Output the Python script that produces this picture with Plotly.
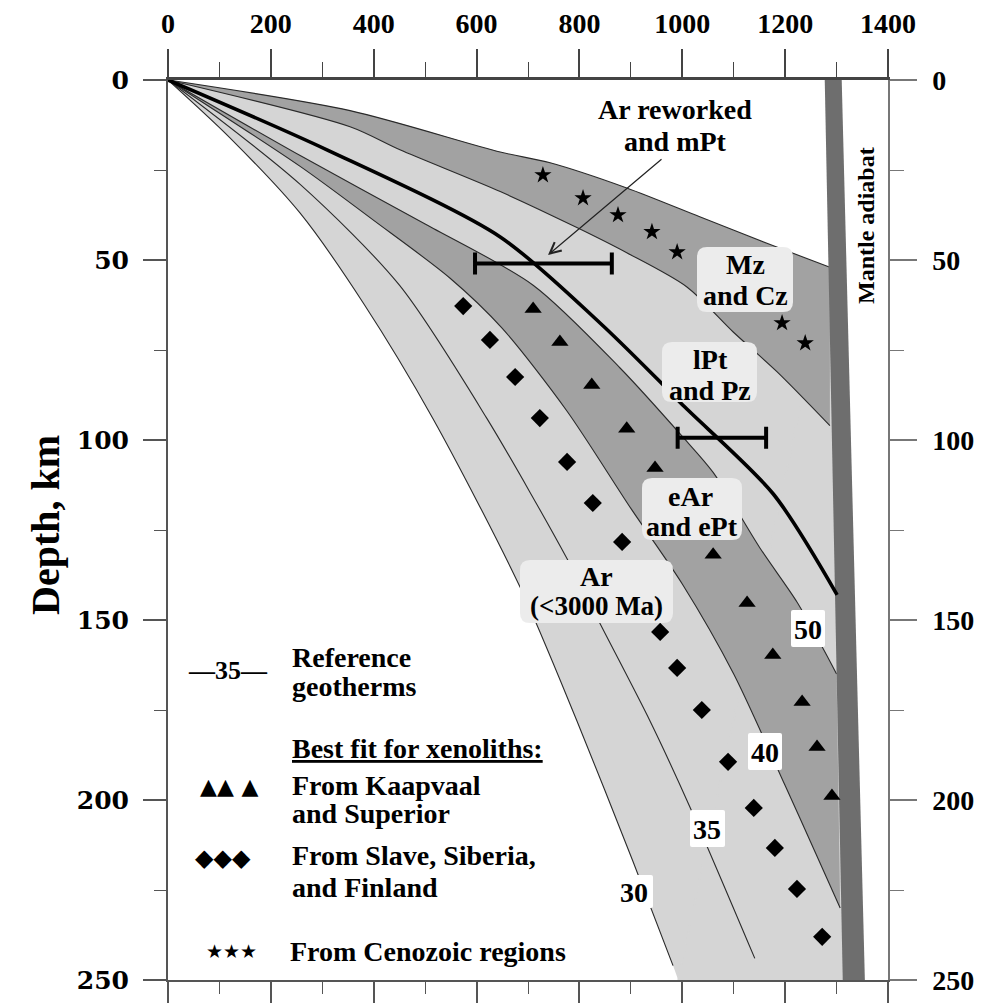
import plotly.graph_objects as go

# ---------------- data (temperature °C, depth km) ----------------
temp_ticks = [0, 200, 400, 600, 800, 1000, 1200, 1400]
temp_minor = [100, 300, 500, 700, 900, 1100, 1300]
depth_ticks = [0, 50, 100, 150, 200, 250]
depth_minor = [25, 75, 125, 175, 225]

geo30_T = [0, 120, 257, 380, 515, 685, 795, 904, 982]
geo30_D = [0, 16, 37, 62, 94, 141, 178, 217, 246]
geo35_T = [0, 257, 450, 620, 776, 840, 937, 1015, 1141]
geo35_D = [0, 29, 57, 94, 133, 151, 178, 202, 244]
geo40_T = [0, 257, 400, 548, 650, 776, 900, 1000, 1100, 1200, 1260, 1307]
geo40_D = [0, 24, 39, 55, 69, 92, 119, 140, 165, 196, 215, 230]
geo50_T = [0, 257, 500, 710, 879, 1000, 1060, 1151, 1223, 1274, 1300]
geo50_D = [0, 21, 40, 57, 80, 99, 109, 130, 145, 158, 165]
mz_top_T = [0, 354, 646, 743, 892, 1034, 1176, 1287]
mz_top_D = [0, 8.5, 20, 23, 30, 38, 46, 52]
mz_bot_T = [0, 354, 451, 646, 795, 892, 1009, 1099, 1184, 1287]
mz_bot_D = [0, 13, 19.4, 31, 41, 48, 57.5, 70, 81, 96]
reworked_T = [0, 309, 646, 840, 951, 1006, 1177, 1301]
reworked_D = [0, 19.4, 43.6, 67.5, 83, 91, 115, 143]
ar_fill_bottom_T = 992

adiabat_D = [0, 250]
adiabat_left_T = [1277, 1312]
adiabat_right_T = [1310, 1355]

errbar_T = [730, 1077]
errbar_D = [51, 99.4]
errbar_half = [133, 86]

kaapvaal_T = [710, 762, 824, 892, 947, 1060, 1126, 1176, 1233, 1262, 1291]
kaapvaal_D = [63.6, 72.8, 84.7, 96.9, 107.8, 131.9, 145.3, 159.7, 172.8, 185.3, 198.9]
slave_T = [574, 626, 675, 723, 776, 826, 883, 957, 990, 1038, 1089, 1139, 1180, 1223, 1272]
slave_D = [62.8, 72.2, 82.5, 93.9, 106.1, 117.5, 128.3, 153.3, 163.3, 175, 189.4, 202.2, 213.3, 224.7, 238]
cenozoic_T = [729, 807, 875, 941, 990, 1194, 1239]
cenozoic_D = [26.4, 32.8, 37.5, 42.2, 47.8, 67.5, 73.1]

# ---------------- styling ----------------
LIGHT = '#d5d5d5'
DARK = '#a2a2a2'
ADIA = '#6e6e6e'
BOXBG = '#ececec'
SERIF = 'Liberation Serif'
XMAX, YMAX = 1400, 250
PL, PR, PT, PB = 168, 888, 80, 980  # plot frame in pixels
SMOOTH = dict(shape='spline', smoothing=0.8)


def tx(px):
    return (px - PL) / (PR - PL) * XMAX


def dy(py):
    return (py - PT) / (PB - PT) * YMAX


fig = go.Figure()


def band(x_lo, y_lo, x_hi, y_hi, color):
    """Fill between two smoothed boundary curves (closing edges straight)."""
    fig.add_trace(go.Scatter(x=x_lo, y=y_lo, mode='lines', line=dict(width=0, **SMOOTH),
                             hoverinfo='skip'))
    fig.add_trace(go.Scatter(x=x_hi, y=y_hi, mode='lines', line=dict(width=0, **SMOOTH),
                             fill='tonexty', fillcolor=color, hoverinfo='skip'))


# light band (whole shaded fan)
band(geo30_T + [ar_fill_bottom_T], geo30_D + [YMAX], mz_top_T, mz_top_D, LIGHT)
fig.add_trace(go.Scatter(
    x=[mz_top_T[-1], adiabat_left_T[-1], ar_fill_bottom_T, mz_top_T[-1]],
    y=[mz_top_D[-1], YMAX, YMAX, mz_top_D[-1]],
    fill='toself', fillcolor=LIGHT, line=dict(width=1.5, color=LIGHT), mode='lines',
    hoverinfo='skip'))
# eAr & ePt dark band
band(geo40_T, geo40_D, geo50_T, geo50_D, DARK)
# Mz & Cz dark band
band(mz_bot_T, mz_bot_D, mz_top_T, mz_top_D, DARK)

# thin geotherm lines
for xs, ys in [(geo30_T, geo30_D), (geo35_T, geo35_D), (geo40_T, geo40_D),
               (geo50_T, geo50_D), (mz_top_T, mz_top_D), (mz_bot_T, mz_bot_D)]:
    fig.add_trace(go.Scatter(x=xs, y=ys, mode='lines',
                             line=dict(color='#2a2a2a', width=1.1, **SMOOTH), hoverinfo='skip'))

# mantle adiabat
fig.add_trace(go.Scatter(
    x=adiabat_left_T + adiabat_right_T[::-1], y=adiabat_D + adiabat_D[::-1],
    fill='toself', fillcolor=ADIA, line=dict(width=0), mode='lines', hoverinfo='skip'))

# Ar reworked and mPt geotherm
fig.add_trace(go.Scatter(x=reworked_T, y=reworked_D, mode='lines',
                         line=dict(color='black', width=3.6, **SMOOTH), hoverinfo='skip'))

# error bars
fig.add_trace(go.Scatter(
    x=errbar_T, y=errbar_D, mode='markers',
    marker=dict(size=1, color='rgba(0,0,0,0)'),
    error_x=dict(type='data', array=errbar_half, thickness=4, width=11, color='black'),
    hoverinfo='skip'))

# xenolith best-fit markers
fig.add_trace(go.Scatter(x=kaapvaal_T, y=kaapvaal_D, mode='markers',
                         marker=dict(symbol='triangle-up', size=15, color='black'), hoverinfo='skip'))
fig.add_trace(go.Scatter(x=slave_T, y=slave_D, mode='markers',
                         marker=dict(symbol='diamond', size=14, color='black'), hoverinfo='skip'))
fig.add_trace(go.Scatter(x=cenozoic_T, y=cenozoic_D, mode='markers',
                         marker=dict(symbol='star', size=13, color='black'), hoverinfo='skip'))

# dummy trace to activate the right / bottom axes
fig.add_trace(go.Scatter(x=[0], y=[0], xaxis='x2', yaxis='y2', mode='markers',
                         marker=dict(size=1, color='rgba(0,0,0,0)'), hoverinfo='skip'))


# ---------------- label boxes ----------------
def rounded_path(x0, y0, x1, y1, r):
    def P(px, py):
        return f"{tx(px):.3f},{dy(py):.3f}"
    return ' '.join([
        f"M {P(x0 + r, y0)}", f"L {P(x1 - r, y0)}", f"Q {P(x1, y0)} {P(x1, y0 + r)}",
        f"L {P(x1, y1 - r)}", f"Q {P(x1, y1)} {P(x1 - r, y1)}", f"L {P(x0 + r, y1)}",
        f"Q {P(x0, y1)} {P(x0, y1 - r)}", f"L {P(x0, y0 + r)}", f"Q {P(x0, y0)} {P(x0 + r, y0)} Z"])


shapes = []
for (x0, y0, x1, y1, r, col) in [
        (697, 247, 793, 312, 10, BOXBG),
        (662, 342, 757, 402, 10, BOXBG),
        (642, 478, 742, 540, 10, BOXBG),
        (520, 560, 673, 623, 10, BOXBG),
        (791, 610, 825, 647, 2, 'white'),
        (748, 733, 782, 770, 2, 'white'),
        (690, 810, 725, 847, 2, 'white'),
        (615, 875, 653, 908, 2, 'white')]:
    shapes.append(dict(type='path', path=rounded_path(x0, y0, x1, y1, r), xref='x', yref='y',
                       fillcolor=col, line=dict(width=0), layer='above'))

annotations = []


def txt(text, px, py, size=28, anchor='center', family=SERIF, angle=0):
    annotations.append(dict(
        text=text, x=tx(px), y=dy(py), xref='x', yref='y', showarrow=False,
        xanchor=anchor, yanchor='middle', textangle=angle,
        font=dict(family=family, size=size, color='black', weight='bold')))


txt('Ar reworked', 675, 109)
txt('and mPt', 675, 141)
txt('Mz', 745, 264)
txt('and Cz', 745, 295)
txt('lPt', 710, 359)
txt('and Pz', 710, 390)
txt('eAr', 690, 496)
txt('and ePt', 692, 526)
txt('Ar', 596, 576)
txt('(<3000 Ma)', 596, 606, size=27)
txt('50', 808, 629)
txt('40', 765, 752)
txt('35', 707, 829)
txt('30', 634, 892)
txt('Mantle adiabat', 866, 226, size=24, angle=-90)

# legend block
txt('—35—', 228, 670, size=26)
txt('Reference', 290, 657, anchor='left')
txt('geotherms', 290, 686, anchor='left')
txt('<u>Best fit for xenoliths:</u>', 290, 748, anchor='left')
txt('▲▲ ▲', 229, 786, size=22, family='DejaVu Sans')
txt('From Kaapvaal', 290, 785, anchor='left')
txt('and Superior', 290, 813, anchor='left')
txt('◆◆◆', 223, 858, size=24, family='DejaVu Sans')
txt('From Slave, Siberia,', 290, 855, anchor='left')
txt('and Finland', 290, 887, anchor='left')
txt('★★★', 231, 951, size=19, family='DejaVu Sans')
txt('From Cenozoic regions', 288, 951, anchor='left')

# arrow to the reworked geotherm
annotations.append(dict(
    x=tx(548), y=dy(255), ax=tx(663), ay=dy(158), xref='x', yref='y', axref='x', ayref='y',
    text='', showarrow=True, arrowhead=5, arrowsize=1.8, arrowwidth=1.2, arrowcolor='#222'))

# depth axis title
annotations.append(dict(
    text='Depth, km', x=(45 - PL) / (PR - PL), y=1 - (525 - PT) / (PB - PT),
    xref='paper', yref='paper', showarrow=False, textangle=-90,
    xanchor='center', yanchor='middle',
    font=dict(family=SERIF, size=40, color='black', weight='bold')))

tick_font = dict(family=SERIF, size=28, color='black', weight='bold')
left_font = dict(family='DejaVu Serif', size=25, color='black', weight='bold')

fig.update_layout(
    template='none',
    width=999, height=1003,
    margin=dict(l=PL, r=999 - PR, t=PT, b=1003 - PB, pad=0, autoexpand=False),
    plot_bgcolor='white', paper_bgcolor='white', showlegend=False,
    shapes=shapes, annotations=annotations,
    xaxis=dict(range=[0, XMAX], side='top', tickmode='array', tickvals=temp_ticks,
               ticktext=[str(v) for v in temp_ticks], automargin=False,
               ticks='outside', ticklen=28, tickwidth=1.6, tickcolor='#444',
               showline=True, linecolor='#444', linewidth=3, showgrid=False, zeroline=False,
               tickfont=tick_font, ticklabelstandoff=5,
               minor=dict(tickvals=temp_minor, ticks='outside', ticklen=15, tickwidth=1.4,
                          tickcolor='#444', showgrid=False)),
    xaxis2=dict(range=[0, XMAX], overlaying='x', side='bottom', anchor='y', automargin=False,
                tickmode='array', tickvals=temp_ticks, showticklabels=False,
                ticks='outside', ticklen=25, tickwidth=1.6, tickcolor='#555',
                showline=True, linecolor='#555', linewidth=2, showgrid=False, zeroline=False,
                minor=dict(tickvals=temp_minor, ticks='outside', ticklen=12, tickwidth=1.4,
                           tickcolor='#555', showgrid=False)),
    yaxis=dict(range=[YMAX, 0], tickmode='array', tickvals=depth_ticks,
               ticktext=[str(v) for v in depth_ticks], automargin=False,
               ticks='outside', ticklen=23, tickwidth=1.6, tickcolor='#555',
               showline=True, linecolor='#555', linewidth=2, showgrid=False, zeroline=False,
               tickfont=left_font, ticklabelstandoff=9,
               minor=dict(tickvals=depth_minor, ticks='outside', ticklen=12, tickwidth=1.4,
                          tickcolor='#555', showgrid=False)),
    yaxis2=dict(range=[YMAX, 0], overlaying='y', side='right', anchor='x', automargin=False,
                tickmode='array', tickvals=depth_ticks, ticktext=[str(v) for v in depth_ticks],
                ticks='outside', ticklen=27, tickwidth=1.6, tickcolor='#777',
                showline=True, linecolor='#777', linewidth=1.5, showgrid=False, zeroline=False,
                tickfont=tick_font, ticklabelstandoff=10,
                minor=dict(tickvals=depth_minor, ticks='outside', ticklen=14, tickwidth=1.4,
                           tickcolor='#777', showgrid=False)),
)

fig.write_html('out.html')
